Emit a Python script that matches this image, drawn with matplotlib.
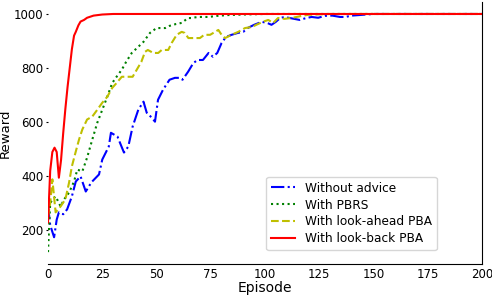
import numpy as np
import matplotlib.pyplot as plt

# episode / reward points
ep_none = [0, 1, 2.8, 4, 5, 7, 8.8, 11, 12.8, 15, 17.4, 20, 23.5, 25, 28, 29, 32, 35, 37, 39,
           41.6, 44, 45.5, 47.8, 49.3, 50.7, 53, 56, 58.5, 60.8, 62, 64.6, 67, 69, 71.4, 74,
           76, 78, 80, 82, 84.6, 87.5, 90, 92, 95, 98.5, 101, 103, 105, 107, 109, 111.5, 116,
           119, 121.5, 124.5, 127.6, 131, 134.6, 137, 140, 150, 200]
rw_none = [290, 220, 175, 240, 267, 260, 278, 326, 381, 400, 344, 378, 407, 462, 510, 561, 547,
           488, 510, 584, 646, 676, 635, 617, 602, 683, 720, 757, 764, 764, 757, 787, 819, 830,
           830, 856, 842, 856, 893, 915, 923, 930, 934, 948, 960, 971, 967, 960, 971, 985, 989,
           985, 978, 985, 989, 986, 993, 994, 989, 989, 994, 1000, 1000]

ep_pbrs = [0, 0.5, 1, 2, 3.5, 5.8, 7.4, 9.7, 12, 13.5, 15.8, 18, 20.4, 22.7, 25, 27.3, 29.6,
           31.6, 34, 36, 38.6, 41.5, 44, 47, 50, 54, 56, 59, 61.6, 64.5, 66, 69, 74, 78, 83,
           90, 100, 200]
rw_pbrs = [120, 215, 300, 315, 326, 289, 315, 340, 381, 425, 418, 469, 536, 598, 646, 694, 745,
           768, 794, 823, 856, 878, 897, 930, 948, 948, 956, 963, 967, 985, 985, 989, 989, 993,
           996, 998, 1000, 1000]

ep_ahead = [0, 1, 2, 3.5, 5.8, 8, 9.7, 11, 12.8, 14.3, 15.8, 18, 20.4, 22.7, 25, 27.3, 29.6,
            31.6, 34, 37, 39, 43, 44.7, 46, 48.5, 50.8, 52.4, 55.4, 57, 59.3, 61.6, 63, 64.7,
            67, 70, 72, 74.7, 78.5, 80, 81.6, 84.6, 87.7, 90.8, 94, 96, 99, 101.5, 103.8, 106,
            109, 112, 114.6, 117, 120, 130, 200]
rw_ahead = [250, 300, 389, 267, 289, 315, 377, 437, 492, 536, 573, 610, 621, 646, 672, 694, 727,
            745, 768, 768, 768, 823, 860, 867, 856, 856, 867, 867, 893, 923, 934, 930, 911,
            911, 911, 923, 923, 941, 923, 911, 923, 934, 948, 952, 960, 971, 978, 967, 985,
            982, 985, 989, 993, 997, 1000, 1000]

ep_back = [0, 1, 2, 3, 4, 5, 6, 7, 8, 9, 10, 11, 12, 12.8, 14, 15, 16.6, 18, 21, 25, 30, 200]
rw_back = [230, 420, 490, 506, 490, 395, 460, 560, 650, 730, 800, 870, 920, 934, 958, 972, 978,
           986, 994, 998, 1000, 1000]

labels = ['Without advice', 'With PBRS', 'With look-ahead PBA', 'With look-back PBA']

fig = plt.figure(figsize=(4.92, 2.96), dpi=100)
ax = fig.add_axes([0.0976, 0.108, 0.882, 0.885])

ax.plot(ep_none, rw_none, 'b-.', lw=1.5, label=labels[0])
ax.plot(ep_pbrs, rw_pbrs, 'g:', lw=1.5, label=labels[1])
ax.plot(ep_ahead, rw_ahead, 'y--', lw=1.5, label=labels[2])
ax.plot(ep_back, rw_back, 'r-', lw=1.5, label=labels[3])

ax.set_xlim(0, 200)
ax.set_ylim(76, 1044)
ax.set_xticks(np.arange(0, 201, 25))
ax.set_yticks([200, 400, 600, 800, 1000])
ax.tick_params(axis='x', length=0, labelsize=8.5, pad=3)
ax.tick_params(axis='y', length=1.5, width=0.8, labelsize=8.5, pad=2)
ax.spines['left'].set_visible(False)
ax.spines['top'].set_visible(False)
ax.set_xlabel('Episode', fontsize=10, labelpad=0)
ax.set_ylabel('Reward', fontsize=9.5, labelpad=1)

ax.legend(loc='lower right', bbox_to_anchor=(0.91, 0.03), fontsize=8.7, labelspacing=0.32)

fig.savefig('out.png', dpi=100)
